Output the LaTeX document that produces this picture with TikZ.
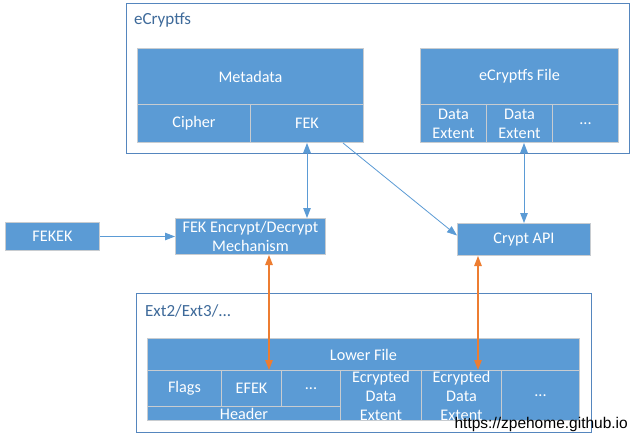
\documentclass[tikz,border=0pt]{standalone}
\usepackage{fontspec}
\setmainfont{Carlito}
\newfontfamily\wmfont{Liberation Sans}
\usetikzlibrary{arrows.meta,calc}
\definecolor{cellblue}{HTML}{5B9BD5}
\definecolor{cellline}{HTML}{C8CCD0}
\definecolor{framecol}{HTML}{5586BE}
\definecolor{labelcol}{HTML}{3E6A9A}
\definecolor{orangearr}{HTML}{ED7D31}
\definecolor{bluearr}{HTML}{5B9BD5}
\tikzset{
  cell/.style={fill=cellblue, draw=cellline, line width=1pt, text=white,
    inner sep=0pt, align=center, anchor=north west,
    font=\fontsize{16.2}{19}\selectfont},
  frame/.style={draw=framecol, line width=1pt, fill=white, anchor=north west, inner sep=0pt},
  flabel/.style={text=labelcol, anchor=west, inner sep=0pt, font=\fontsize{17}{20}\selectfont},
  barrow/.style={draw=bluearr, line width=1pt, {Triangle[length=10pt,width=7.5pt]}-{Triangle[length=10pt,width=7.5pt]}},
  barrowone/.style={draw=bluearr, line width=0.8pt, -{Triangle[length=10pt,width=7.5pt]}},
  oarrow/.style={draw=orangearr, line width=1.15pt, {Triangle[length=10pt,width=7.5pt]}-{Triangle[length=10pt,width=7.5pt]}},
}
\newcommand{\cellbox}[6]{%
  \node[cell, minimum width={(#4-#2)*1pt}, minimum height={(#5-#3)*1pt}] (#1) at (#2,#3) {#6};}
\newcommand{\frbox}[5]{%
  \node[frame, minimum width={(#4-#2)*1pt}, minimum height={(#5-#3)*1pt}] (#1) at (#2,#3) {};}
\begin{document}
\begin{tikzpicture}[x=1pt,y=-1pt]
\useasboundingbox[fill=white] (0,0) rectangle (635,439);
% frames
\frbox{ecfs}{126}{3}{629}{153}
\node[flabel] (ecfslab) at (134,20) {eCryptfs};
\frbox{ext}{136}{293}{591}{432}
\node[flabel] (extlab) at (145,311) {Ext2/Ext3/...};
% metadata
\cellbox{meta}{137}{48}{363}{104}{Metadata}
\cellbox{cipher}{137}{104}{250}{142}{Cipher}
\cellbox{fek}{250}{104}{363}{142}{FEK}
% ecryptfs file
\cellbox{efile}{420}{48}{618}{104}{eCryptfs File}
\cellbox{de1}{420}{104}{486}{142}{Data\\Extent}
\cellbox{de2}{486}{104}{552}{142}{Data\\Extent}
\cellbox{de3}{552}{104}{618}{142}{...}
% middle
\cellbox{fekek}{5}{222}{99}{250}{FEKEK}
\cellbox{enc}{175}{218}{325}{254}{FEK Encrypt/Decrypt\\Mechanism}
\cellbox{crypt}{457}{223}{590}{255}{Crypt API}
% lower file
\cellbox{lower}{147}{338}{579}{370}{Lower File}
\cellbox{flags}{147}{370}{221}{406}{Flags}
\cellbox{efek}{221}{370}{281}{406}{EFEK}
\cellbox{hdots}{281}{370}{340}{406}{...}
\cellbox{header}{147}{406}{340}{420}{Header}
\cellbox{ecr1}{340}{370}{421}{420}{Ecrypted\\Data\\Extent}
\cellbox{ecr2}{421}{370}{501}{420}{Ecrypted\\Data\\Extent}
\cellbox{ldots}{501}{370}{579}{420}{...}
% connectors
\draw[barrowone] (fekek.east) -- (fekek.east -| enc.west);
\draw[barrow] (fek.south) -- (fek.south |- enc.north);
\draw[barrow] (crypt.north) -- (crypt.north |- de2.south);
\draw[barrowone] ([xshift=36pt]fek.south) -- ([yshift=4pt]crypt.west);
\draw[oarrow] ([xshift=18.5pt]enc.south) -- ([xshift=18.5pt]enc.south |- efek.north);
\draw[oarrow] ([xshift=-46pt]crypt.south) -- ([xshift=-46pt]crypt.south |- ecr2.north);
% watermark
\node[anchor=east, inner sep=0pt, font=\wmfont\fontsize{15.5}{18}\selectfont] (wm) at (628,424) {https://zpehome.github.io};
\end{tikzpicture}
\end{document}
